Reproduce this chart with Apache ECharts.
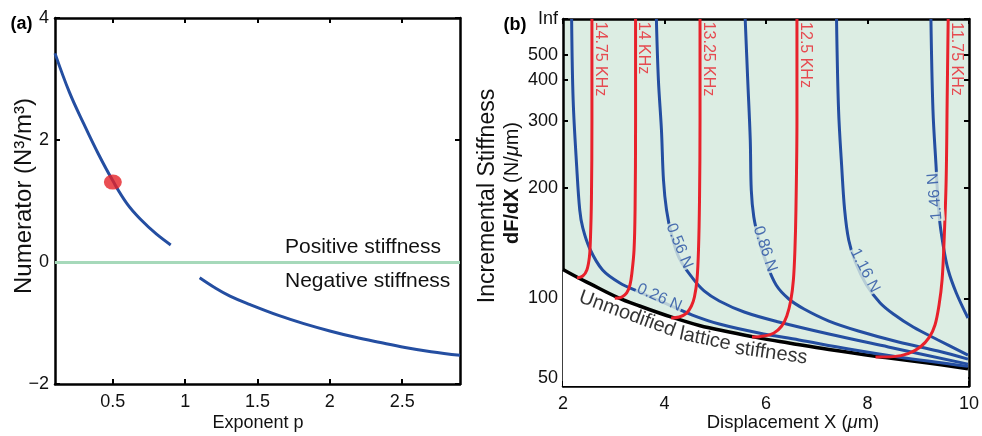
<!DOCTYPE html>
<html><head><meta charset="utf-8">
<script src="https://cdn.jsdelivr.net/npm/echarts@6/dist/echarts.min.js"></script>
<style>html,body{margin:0;padding:0;background:#fff}#c{width:982px;height:436px}</style>
</head><body><div id="c"></div>
<script>
// ---------------- DATA : panel (a) ----------------
const aUpperP = [0.1, 0.2, 0.3, 0.4, 0.5, 0.6, 0.7, 0.8, 0.9];
const aUpperY = [3.42, 2.78, 2.26, 1.77, 1.33, 0.95, 0.68, 0.46, 0.28];
const aLowerP = [1.1, 1.2, 1.31, 1.45, 1.65, 1.82, 2.0, 2.17, 2.35, 2.52, 2.7, 2.9];
const aLowerY = [-0.26, -0.415, -0.56, -0.70, -0.88, -1.01, -1.13, -1.23, -1.32, -1.40, -1.47, -1.53];
const aDotP = [0.5];
const aDotY = [1.31];
const aXTicks = [0.5, 1, 1.5, 2, 2.5];

// ---------------- DATA : panel (b) ----------------
const bYTickValues = [50, 100, 200, 300, 400, 500, Infinity];
const bYTickLabels = ['50', '100', '200', '300', '400', '500', 'Inf'];

const latticeX = [2, 2.29, 2.53, 3.06, 3.51, 4.157, 4.686, 5.275, 5.804, 6.45, 7.24, 8.353, 9.196, 9.98];
const latticeK = [119.8, 113.9, 109.6, 100.8, 93.5, 84.6, 78.9, 74.5, 71.1, 67.7, 63.9, 59.6, 56.8, 54.1];

const force026X = [2.17, 2.2, 2.27, 2.33, 2.39, 2.53, 2.78, 3.12, 3.51, 4.0, 4.55, 5.08, 5.86, 6.65, 7.63, 8.61, 9.98];
const force026K = [Infinity, 347.6, 227.2, 173.9, 155.4, 136.2, 119.4, 110.1, 104.0, 96.0, 86.4, 79.9, 73.9, 69.5, 64.2, 59.9, 55.2];
const force056X = [3.84, 3.88, 3.94, 3.98, 4.04, 4.14, 4.29, 4.55, 4.78, 5.08, 5.57, 6.25, 7.24, 8.41, 9.98];
const force056K = [Infinity, 400, 284, 209.6, 173.9, 148.7, 128.7, 113.6, 104.7, 97.7, 88.7, 81.3, 73.2, 65.4, 56.3];
const force086X = [5.59, 5.64, 5.69, 5.71, 5.76, 5.86, 6.0, 6.2, 6.45, 6.75, 7.24, 7.82, 8.61, 9.39, 9.98];
const force086K = [Infinity, 400, 267.3, 197.1, 166.4, 144.1, 125.5, 108.7, 99.4, 91.1, 82.0, 75.2, 68.3, 63.1, 58.8];
const force116X = [7.39, 7.43, 7.49, 7.55, 7.63, 7.76, 7.98, 8.25, 8.51, 8.9, 9.39, 9.98];
const force116K = [Infinity, 324, 229.6, 173.9, 144.1, 125.5, 108.7, 96.0, 87.2, 77.8, 69.5, 60.9];
const force146X = [9.25, 9.29, 9.35, 9.41, 9.49, 9.59, 9.75, 9.98];
const force146K = [Infinity, 324, 229.6, 168.6, 139.7, 119.4, 103.4, 84.2];

const freq1475X = [2.275, 2.39, 2.47, 2.52, 2.54, 2.56, 2.57, 2.57];
const freq1475K = [113.6, 115.0, 119.4, 129.5, 144.1, 185.2, 302, Infinity];
const freq1400X = [3.02, 3.157, 3.255, 3.32, 3.36, 3.40, 3.42, 3.43, 3.43];
const freq1400K = [100.0, 100.8, 103.4, 108.7, 117.9, 135.4, 173.9, 302, Infinity];
const freq1325X = [4.13, 4.29, 4.43, 4.53, 4.59, 4.64, 4.67, 4.69, 4.70, 4.70];
const freq1325K = [84.2, 84.9, 87.6, 93.5, 100.8, 112.2, 135.4, 185.2, 302, Infinity];
const freq1250X = [5.725, 5.96, 6.157, 6.31, 6.41, 6.49, 6.54, 6.57, 6.59, 6.61, 6.61];
const freq1250K = [71.3, 72.0, 73.9, 78.5, 85.7, 98.5, 112.2, 135.4, 173.9, 302, Infinity];
const freq1175X = [8.157, 8.51, 8.80, 9.04, 9.22, 9.33, 9.41, 9.47, 9.51, 9.55, 9.57, 9.59];
const freq1175K = [59.9, 60.1, 61.7, 65.4, 71.3, 79.2, 94.3, 112.2, 144.1, 209.6, 347.6, Infinity];

const forceLabels = ['0.26 N', '0.56 N', '0.86 N', '1.16 N', '1.46 N'];
const forceLabelX = [3.90, 4.29, 5.98, 7.95, 9.33];
const forceLabelK = [100.5, 138.8, 136.2, 119.0, 189.0];
const forceLabelAngle = [-24, -68, -72, -63, 95];

const freqLabels = ['14.75 KHz', '14 KHz', '13.25 KHz', '12.5 KHz', '11.75 KHz'];
const freqLabelX = [2.745, 3.588, 4.863, 6.775, 9.745];
const freqLabelK = [482.5, 620.7, 482.5, 500, 482.5];

const latticeWords = ['Unmodified', 'lattice', 'stiffness'];
const latticeWordX = [3.265, 4.80, 6.10];
const latticeWordK = [87.2, 70.1, 62.0];
const latticeWordAngle = [-20, -12, -8];

// ---- non-linear stiffness axis of panel (b): position of each tick along the axis ----
const scaleTicks = [50, 100, 200, 300, 400, 500];
const scaleTickPos = [8.3, 87.7, 198.3, 265, 306, 331];
const scaleInfPos = 367;
function T(k) {
  if (!isFinite(k)) return scaleInfPos;
  const n = scaleTicks.length;
  if (k > scaleTicks[n - 1]) return scaleTickPos[n - 1] + (scaleInfPos - scaleTickPos[n - 1]) * (1 - scaleTicks[n - 1] / k);
  let i = 0;
  while (i < n - 2 && k > scaleTicks[i + 1]) i++;
  return scaleTickPos[i] + (scaleTickPos[i + 1] - scaleTickPos[i]) * Math.log(k / scaleTicks[i]) / Math.log(scaleTicks[i + 1] / scaleTicks[i]);
}

// ---------------- styles ----------------
const FONT = '"Liberation Sans", Arial, Helvetica, sans-serif';
const BLUE = '#244ea1';
const RED = '#e8212b';
const GREEN_BG = '#dcede3';
const GREEN_LINE = '#a6d9ba';

const zip = (a, b) => a.map((v, i) => [v, b[i]]);
const zipT = (a, b) => a.map((v, i) => [v, T(b[i])]);

const axisLineStyle = { show: true, onZero: false, lineStyle: { color: '#000', width: 2.5 } };
const tickStyle = { inside: true, length: 5, lineStyle: { color: '#000', width: 2 } };
const labelStyle = { color: '#111', fontSize: 18, fontFamily: FONT };

const bYTickPos = bYTickValues.map(T);

function curveB(name, X, K, color, width) {
  return {
    type: 'line', name: name, xAxisIndex: 2, yAxisIndex: 2, data: zipT(X, K),
    smooth: 0.35, symbol: 'none', lineStyle: { color: color, width: width }, z: 3
  };
}

const chart = echarts.init(document.getElementById('c'), null, { renderer: 'canvas' });
const option = {
  animation: false,
  textStyle: { fontFamily: FONT },
  grid: [
    { left: 55, top: 18, width: 405, height: 366 },
    { left: 563, top: 19, width: 408, height: 367, show: true, backgroundColor: GREEN_BG, borderWidth: 0 }
  ],
  xAxis: [
    { gridIndex: 0, type: 'value', position: 'bottom', min: 0.1, max: 2.9,
      axisLine: axisLineStyle, splitLine: { show: false },
      axisTick: Object.assign({ customValues: aXTicks }, tickStyle),
      axisLabel: Object.assign({ customValues: aXTicks, margin: 9, formatter: v => String(v) }, labelStyle) },
    { gridIndex: 0, type: 'value', position: 'top', min: 0.1, max: 2.9,
      axisLine: axisLineStyle, splitLine: { show: false },
      axisTick: Object.assign({ customValues: aXTicks }, tickStyle), axisLabel: { show: false } },
    { gridIndex: 1, type: 'value', position: 'bottom', min: 2, max: 10, interval: 2,
      axisLine: axisLineStyle, splitLine: { show: false }, axisTick: tickStyle,
      axisLabel: Object.assign({ margin: 9 }, labelStyle) },
    { gridIndex: 1, type: 'value', position: 'top', min: 2, max: 10, interval: 2,
      axisLine: axisLineStyle, splitLine: { show: false }, axisTick: tickStyle, axisLabel: { show: false } }
  ],
  yAxis: [
    { gridIndex: 0, type: 'value', position: 'left', min: -2, max: 4, interval: 2,
      axisLine: axisLineStyle, splitLine: { show: false }, axisTick: tickStyle,
      axisLabel: Object.assign({ margin: 6, formatter: v => v < 0 ? '\u2212' + Math.abs(v) : String(v) }, labelStyle) },
    { gridIndex: 0, type: 'value', position: 'right', min: -2, max: 4, interval: 2,
      axisLine: axisLineStyle, splitLine: { show: false }, axisTick: tickStyle, axisLabel: { show: false } },
    { gridIndex: 1, type: 'value', position: 'left', min: 0, max: scaleInfPos,
      axisLine: axisLineStyle, splitLine: { show: false },
      axisTick: Object.assign({ customValues: bYTickPos }, tickStyle),
      axisLabel: Object.assign({ customValues: bYTickPos, margin: 5,
        formatter: v => { const i = bYTickPos.findIndex(p => Math.abs(p - v) < 0.01); return i >= 0 ? bYTickLabels[i] : ''; } }, labelStyle) },
    { gridIndex: 1, type: 'value', position: 'right', min: 0, max: scaleInfPos,
      axisLine: axisLineStyle, splitLine: { show: false },
      axisTick: Object.assign({ customValues: bYTickPos }, tickStyle), axisLabel: { show: false } }
  ],
  series: [
    // ---- panel (a)
    { type: 'line', xAxisIndex: 0, yAxisIndex: 0, data: zip(aUpperP, aUpperY), smooth: 0.4, symbol: 'none',
      lineStyle: { color: BLUE, width: 3 },
      markLine: { silent: true, symbol: ['none', 'none'], label: { show: false },
        lineStyle: { color: GREEN_LINE, width: 3, type: 'solid' }, data: [{ yAxis: 0 }] } },
    { type: 'line', xAxisIndex: 0, yAxisIndex: 0, data: zip(aLowerP, aLowerY), smooth: 0.4, symbol: 'none',
      lineStyle: { color: BLUE, width: 3 } },
    { type: 'scatter', xAxisIndex: 0, yAxisIndex: 0, data: zip(aDotP, aDotY), symbol: 'circle',
      symbolSize: [18, 15], itemStyle: { color: '#e52228' }, z: 5 },
    // ---- panel (b)
    { type: 'line', xAxisIndex: 2, yAxisIndex: 2, data: zipT(latticeX, latticeK), smooth: 0.4, symbol: 'none',
      lineStyle: { color: '#000', width: 3.5 }, areaStyle: { color: '#ffffff', opacity: 1, origin: 'start' }, z: 2 },
    curveB('0.26 N', force026X, force026K, BLUE, 3),
    curveB('0.56 N', force056X, force056K, BLUE, 3),
    curveB('0.86 N', force086X, force086K, BLUE, 3),
    curveB('1.16 N', force116X, force116K, BLUE, 3),
    curveB('1.46 N', force146X, force146K, BLUE, 3),
    curveB('14.75 KHz', freq1475X, freq1475K, RED, 3),
    curveB('14 KHz', freq1400X, freq1400K, RED, 3),
    curveB('13.25 KHz', freq1325X, freq1325K, RED, 3),
    curveB('12.5 KHz', freq1250X, freq1250K, RED, 3),
    curveB('11.75 KHz', freq1175X, freq1175K, RED, 3),
    { type: 'scatter', xAxisIndex: 2, yAxisIndex: 2, symbolSize: 0, z: 6, silent: true,
      data: forceLabels.map((t, i) => ({ value: [forceLabelX[i], T(forceLabelK[i])],
        label: { show: true, formatter: t, rotate: forceLabelAngle[i], position: 'inside', align: 'center', verticalAlign: 'middle',
          color: BLUE, fontSize: 16, fontFamily: FONT, backgroundColor: GREEN_BG, padding: [0, 1] } })) },
    { type: 'scatter', xAxisIndex: 2, yAxisIndex: 2, symbolSize: 0, z: 6, silent: true,
      data: freqLabels.map((t, i) => ({ value: [freqLabelX[i], T(freqLabelK[i])],
        label: { show: true, formatter: t, rotate: -90, position: 'inside', align: 'center', verticalAlign: 'middle',
          color: RED, fontSize: 16, fontFamily: FONT } })) },
    { type: 'scatter', xAxisIndex: 2, yAxisIndex: 2, symbolSize: 0, z: 6, silent: true,
      data: latticeWords.map((t, i) => ({ value: [latticeWordX[i], T(latticeWordK[i])],
        label: { show: true, formatter: t, rotate: latticeWordAngle[i], position: 'inside', align: 'center', verticalAlign: 'middle',
          color: '#000', fontSize: 20, fontFamily: FONT } })) }
  ],
  graphic: [
    { type: 'text', x: 21.5, y: 24, style: { text: '(a)', fontSize: 18, fontWeight: 'bold', fontFamily: FONT, fill: '#000', align: 'center', verticalAlign: 'middle' } },
    { type: 'text', x: 515, y: 25, style: { text: '(b)', fontSize: 18, fontWeight: 'bold', fontFamily: FONT, fill: '#000', align: 'center', verticalAlign: 'middle' } },
    { type: 'text', x: 24, y: 196, rotation: Math.PI / 2, style: { text: 'Numerator (N\u00b3/m\u00b3)', fontSize: 24, fontFamily: FONT, fill: '#111', align: 'center', verticalAlign: 'middle' } },
    { type: 'text', x: 258, y: 423, style: { text: 'Exponent p', fontSize: 18, fontFamily: FONT, fill: '#111', align: 'center', verticalAlign: 'middle' } },
    { type: 'text', x: 285, y: 247, style: { text: 'Positive stiffness', fontSize: 21, fontFamily: FONT, fill: '#111', align: 'left', verticalAlign: 'middle' } },
    { type: 'text', x: 285, y: 281, style: { text: 'Negative stiffness', fontSize: 21, fontFamily: FONT, fill: '#111', align: 'left', verticalAlign: 'middle' } },
    { type: 'text', x: 488, y: 196, rotation: Math.PI / 2, style: { text: 'Incremental Stiffness', fontSize: 23, fontFamily: FONT, fill: '#111', align: 'center', verticalAlign: 'middle' } },
    { type: 'text', x: 512, y: 183, rotation: Math.PI / 2, style: { text: '{b|dF/dX} (N/{i|\u03bc}m)', fontSize: 20, fontFamily: FONT, fill: '#111', align: 'center', verticalAlign: 'middle',
      rich: { b: { fontSize: 20, fontFamily: FONT, fontWeight: 'bold', fill: '#111' }, i: { fontSize: 20, fontFamily: FONT, fontStyle: 'italic', fill: '#111' } } } },
    { type: 'text', x: 793, y: 423, style: { text: 'Displacement X ({i|\u03bc}m)', fontSize: 18.5, fontFamily: FONT, fill: '#111', align: 'center', verticalAlign: 'middle',
      rich: { i: { fontSize: 18.5, fontFamily: FONT, fontStyle: 'italic', fill: '#111' } } } }
  ]
};
chart.setOption(option);
</script>
</body></html>
